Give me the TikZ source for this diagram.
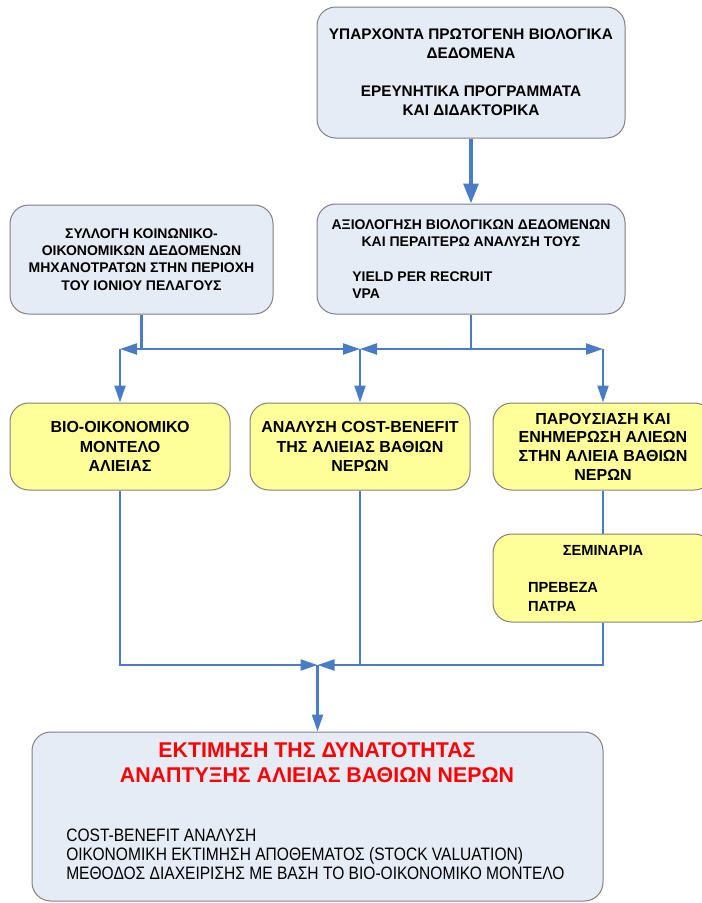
\documentclass[tikz,border=0pt]{standalone}
\usepackage{fontspec}
\setmainfont{Liberation Sans}
\newfontfamily\narrowsans[FakeStretch=0.865]{Liberation Sans}
\usetikzlibrary{arrows.meta}

\definecolor{boxblue}{RGB}{230,236,246}
\definecolor{boxyellow}{RGB}{255,255,153}
\definecolor{boxedge}{RGB}{128,128,128}
\definecolor{linkblue}{RGB}{74,124,198}
\definecolor{titlered}{RGB}{255,0,0}

\tikzset{
  bluebox/.style={draw=boxedge, fill=boxblue, line width=0.75pt, rounded corners=14pt, align=center, inner sep=0pt},
  yellowbox/.style={bluebox, fill=boxyellow},
  link/.style={draw=linkblue, line width=1.7pt},
  linkarrow/.style={link, -{Triangle[length=12.75pt, width=8.25pt]}},
  bigarrow/.style={draw=linkblue, line width=3pt, -{Triangle[length=15pt, width=11pt]}}
}

\begin{document}
\begin{tikzpicture}[x=0.75pt, y=-0.75pt]
    \useasboundingbox (0,0) rectangle (701,903);

    % Data boxes
    \node[bluebox, minimum width=231pt, minimum height=98.25pt,
          font=\fontsize{11.5}{14.25}\selectfont\bfseries] (data) at (471,72.5)
      {ΥΠΑΡΧΟΝΤΑ ΠΡΩΤΟΓΕΝΗ ΒΙΟΛΟΓΙΚΑ\\ΔΕΔΟΜΕΝΑ\\[14.25pt]ΕΡΕΥΝΗΤΙΚΑ ΠΡΟΓΡΑΜΜΑΤΑ\\ΚΑΙ ΔΙΔΑΚΤΟΡΙΚΑ};
    \node[bluebox, minimum width=231pt, minimum height=82.5pt,
          font=\fontsize{10.5}{13}\selectfont\bfseries] (eval) at (471,259)
      {ΑΞΙΟΛΟΓΗΣΗ ΒΙΟΛΟΓΙΚΩΝ ΔΕΔΟΜΕΝΩΝ\\ΚΑΙ ΠΕΡΑΙΤΕΡΩ ΑΝΑΛΥΣΗ ΤΟΥΣ\\[13pt]%
       \makebox[208pt][l]{\hspace{15pt}YIELD PER RECRUIT}\\\makebox[208pt][l]{\hspace{15pt}VPA}};
    \node[bluebox, minimum width=197.25pt, minimum height=81.75pt,
          font=\fontsize{10.5}{13}\selectfont\bfseries] (social) at (141.5,259.5)
      {ΣΥΛΛΟΓΗ ΚΟΙΝΩΝΙΚΟ-\\ΟΙΚΟΝΟΜΙΚΩΝ ΔΕΔΟΜΕΝΩΝ\\ΜΗΧΑΝΟΤΡΑΤΩΝ ΣΤΗΝ ΠΕΡΙΟΧΗ\\ΤΟΥ ΙΟΝΙΟΥ ΠΕΛΑΓΟΥΣ};

    % Work boxes
    \node[yellowbox, minimum width=165pt, minimum height=65.25pt,
          font=\fontsize{12}{14.5}\selectfont\bfseries] (model) at (120,446.5)
      {ΒΙΟ-ΟΙΚΟΝΟΜΙΚΟ\\ΜΟΝΤΕΛΟ\\ΑΛΙΕΙΑΣ};
    \node[yellowbox, minimum width=165pt, minimum height=65.25pt,
          font=\fontsize{12}{14.5}\selectfont\bfseries] (cost) at (360,446.5)
      {ΑΝΑΛΥΣΗ COST-BENEFIT\\ΤΗΣ ΑΛΙΕΙΑΣ ΒΑΘΙΩΝ\\ΝΕΡΩΝ};
    \node[yellowbox, minimum width=165pt, minimum height=65.25pt,
          font=\fontsize{12}{14}\selectfont\bfseries] (info) at (603,446.5)
      {ΠΑΡΟΥΣΙΑΣΗ ΚΑΙ\\ΕΝΗΜΕΡΩΣΗ ΑΛΙΕΩΝ\\ΣΤΗΝ ΑΛΙΕΙΑ ΒΑΘΙΩΝ\\ΝΕΡΩΝ};
    \node[yellowbox, minimum width=165pt, minimum height=66pt,
          font=\fontsize{11}{14}\selectfont\bfseries] (seminar) at (603,578)
      {ΣΕΜΙΝΑΡΙΑ\\[14pt]\makebox[112.5pt][l]{ΠΡΕΒΕΖΑ}\\\makebox[112.5pt][l]{ΠΑΤΡΑ}};

    % Result
    \node[bluebox, minimum width=428.25pt, minimum height=126.75pt] (result) at (317.5,816.5) {};
    \node[align=center, text=titlered, font=\fontsize{16}{18.75}\selectfont\bfseries] (restitle) at (317,762.5)
      {ΕΚΤΙΜΗΣΗ ΤΗΣ ΔΥΝΑΤΟΤΗΤΑΣ\\ΑΝΑΠΤΥΞΗΣ ΑΛΙΕΙΑΣ ΒΑΘΙΩΝ ΝΕΡΩΝ};
    \node[align=left, anchor=west, inner sep=0pt, font=\narrowsans\fontsize{13.5}{14.25}\selectfont] (reslist) at (66,854)
      {COST-BENEFIT ΑΝΑΛΥΣΗ\\ΟΙΚΟΝΟΜΙΚΗ ΕΚΤΙΜΗΣΗ ΑΠΟΘΕΜΑΤΟΣ (STOCK VALUATION)\\ΜΕΘΟΔΟΣ ΔΙΑΧΕΙΡΙΣΗΣ ΜΕ ΒΑΣΗ ΤΟ ΒΙΟ-ΟΙΚΟΝΟΜΙΚΟ ΜΟΝΤΕΛΟ};

    % Fork and merge points
    \coordinate (forkrow) at (0,349);
    \coordinate (mergerow) at (0,665);
    \coordinate (socjoin) at (social.south |- forkrow);
    \coordinate (evaljoin) at (eval.south |- forkrow);
    \coordinate (leftfork) at (model.north |- forkrow);
    \coordinate (midfork) at (cost.north |- forkrow);
    \coordinate (rightfork) at (info.north |- forkrow);
    \coordinate (merge) at (result.north |- mergerow);

    % Connectors
    \draw[bigarrow] (data.south) -- (eval.north);
    \draw[link] (social.south) -- (socjoin);
    \draw[linkarrow] (socjoin) -- (leftfork);
    \draw[linkarrow] (socjoin) -- (midfork);
    \draw[link] (eval.south) -- (evaljoin);
    \draw[linkarrow] (evaljoin) -- (midfork);
    \draw[linkarrow] (evaljoin) -- (rightfork);
    \draw[linkarrow] (leftfork) -- (model.north);
    \draw[linkarrow] (midfork) -- (cost.north);
    \draw[linkarrow] (rightfork) -- (info.north);
    \draw[link] (info.south) -- (seminar.north);
    \draw[linkarrow] (model.south) |- (merge);
    \draw[link] (cost.south) -- (cost.south |- mergerow);
    \draw[linkarrow] (seminar.south) |- (merge);
    \draw[linkarrow] (merge) -- (result.north);
\end{tikzpicture}
\end{document}
